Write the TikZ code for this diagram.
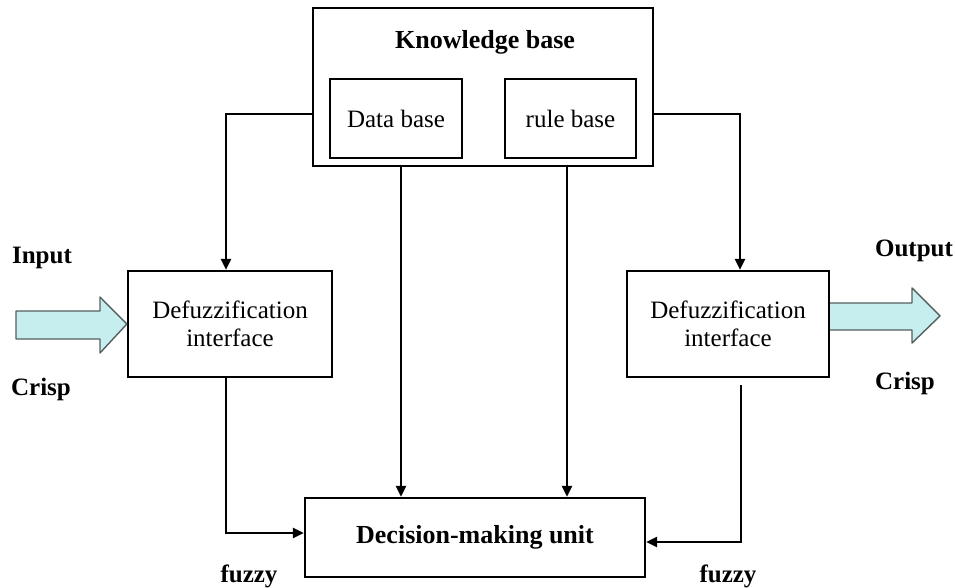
\documentclass[tikz,border=0pt]{standalone}
\usepackage{fontspec}
\setmainfont{Liberation Serif}
\usetikzlibrary{arrows.meta}
\definecolor{fatfill}{RGB}{198,238,238}
\definecolor{fatline}{RGB}{85,95,95}
\tikzset{
  box/.style={draw, line width=2.2pt, rectangle, align=center, inner sep=0pt, font=\fontsize{25}{30}\selectfont},
  conn/.style={line width=2.6pt, -{Triangle[length=11pt,width=10pt]}},
  fat/.style={draw=fatline, fill=fatfill, line width=1.4pt, line join=round},
  lbl/.style={font=\fontsize{25}{30}\selectfont\bfseries, inner sep=0pt}
}
\begin{document}
\begin{tikzpicture}[x=1pt,y=-1pt]
\useasboundingbox (0,0) rectangle (955,588);
% boxes
\node[box, minimum width=340pt, minimum height=158pt] (KB) at (483,87) {};
\node[lbl, font=\fontsize{26}{30}\selectfont\bfseries] (KBt) at (485,42) {Knowledge base};
\node[box, minimum width=132pt, minimum height=79pt] (DB) at (396,118.5) {Data base};
\node[box, minimum width=131pt, minimum height=79pt] (RB) at (570.5,118.5) {rule base};
\node[box, minimum width=204pt, minimum height=106pt] (LD) at (230,324) {Defuzzification\\[-2pt]interface};
\node[box, minimum width=202pt, minimum height=106pt] (RD) at (728,324) {Defuzzification\\[-2pt]interface};
\node[box, minimum width=340pt, minimum height=79pt, font=\fontsize{26}{30}\selectfont\bfseries] (DM) at (475,537.5) {Decision-making unit};
% labels
\node[lbl] (in) at (42,258) {Input};
\node[lbl] (cl) at (41,389) {Crisp};
\node[lbl] (out) at (914,251) {Output};
\node[lbl] (cr) at (905,383) {Crisp};
\node[lbl] (fl1) at (249,576) {fuzzy};
\node[lbl] (fl2) at (728,576) {fuzzy};
% connector helper coordinates
\coordinate (kl) at (226,114);
\coordinate (kr) at (740,114);
\coordinate (v1) at (401,0);
\coordinate (v2) at (567,0);
\coordinate (fl) at (226,533);
\coordinate (fr) at (741,542);
\coordinate (frs) at (741,385);
% connectors
\draw[conn] (kl -| KB.west) -- (kl) -- (kl |- LD.north);
\draw[conn] (kr -| KB.east) -- (kr) -- (kr |- RD.north);
\draw[conn] (v1 |- KB.south) -- (v1 |- DM.north);
\draw[conn] (v2 |- KB.south) -- (v2 |- DM.north);
\draw[conn] (fl |- LD.south) -- (fl) -- (fl -| DM.west);
\draw[conn] (frs) -- (fr) -- (fr -| DM.east);
% fat arrows
\draw[fat] (16,311) -- (100,311) -- (100,297) -- (LD.west) -- (100,353) -- (100,339) -- (16,339) -- cycle;
\draw[fat] (RD.east |- 0,303) -- (912,303) -- (912,288) -- (940,316) -- (912,343) -- (912,330) -- (RD.east |- 0,330);
\end{tikzpicture}
\end{document}
